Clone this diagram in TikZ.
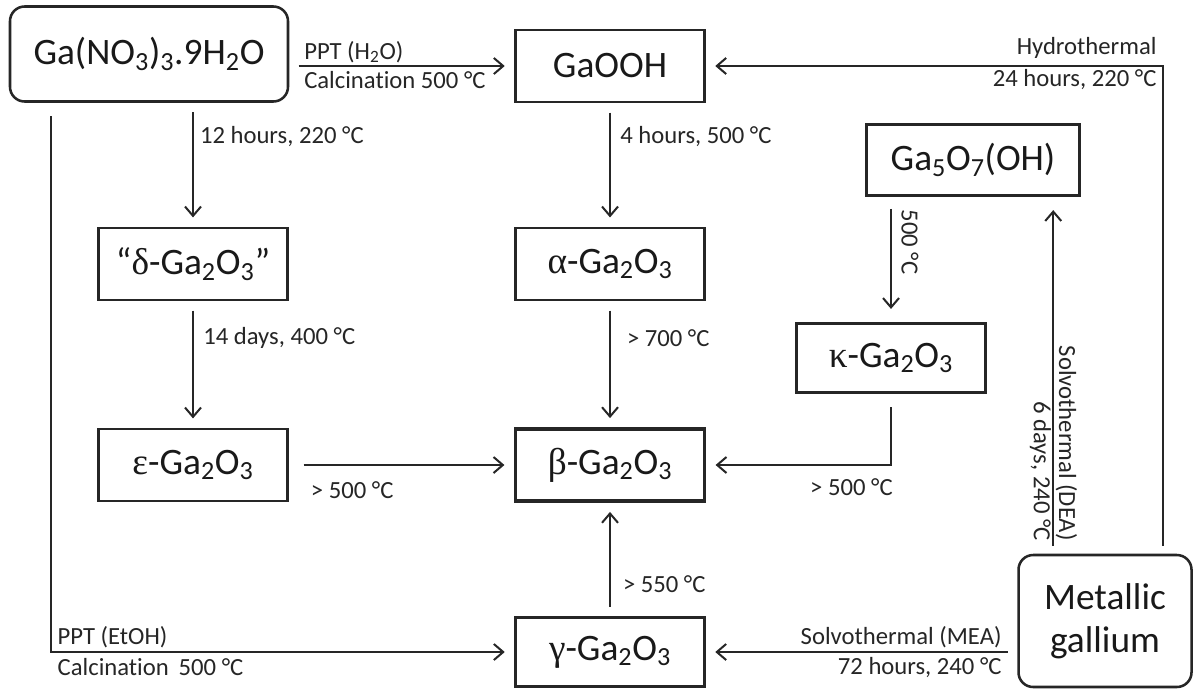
\documentclass[tikz,border=0pt]{standalone}
\usepackage{fontspec}
\setmainfont{Carlito}[Ligatures=NoCommon]
\newfontfamily\grkfont{Liberation Serif}
\usepackage{tikz}
\usetikzlibrary{arrows.meta,positioning}
\newcommand{\gr}[1]{{\grkfont #1}}
\newcommand{\sbs}[1]{\textsubscript{#1}}

\tikzset{
  phase/.style={draw=black!85, line width=1.9pt, inner sep=0pt, text=black!90,
    font=\fontsize{28}{32.25}\selectfont, minimum width=142pt, minimum height=54pt},
  startbox/.style={phase, rounded corners=11pt},
  flow/.style={draw=black!85, line width=1.5pt, -{Straight Barb[length=7pt,width=12pt]},
    shorten >=7pt, shorten <=7pt},
  cond/.style={font=\fontsize{18.5}{20}\selectfont, text=black!85, inner sep=1pt},
}

\begin{document}
\begin{tikzpicture}[x=0.75pt,y=-0.75pt]
  \fill[white] (0,0) rectangle (1194,689);
  \node[startbox, minimum width=208.5pt, minimum height=71.25pt] (nitrate) at (149,54) {Ga(NO\sbs{3})\sbs{3}.9H\sbs{2}O};
  \node[phase] (gaooh) at (610,66) {GaOOH};
  \node[phase, minimum width=159.75pt, minimum height=53.25pt] (gafive) at (973,160) {Ga\sbs{5}O\sbs{7}(OH)};
  \node[phase] (delta) at (193,264) {“\gr{δ}-Ga\sbs{2}O\sbs{3}”};
  \node[phase] (alpha) at (610,264) {\gr{α}-Ga\sbs{2}O\sbs{3}};
  \node[phase, minimum height=51.75pt] (kappa) at (891,358) {\gr{κ}-Ga\sbs{2}O\sbs{3}};
  \node[phase] (eps) at (193,465) {\gr{ε}-Ga\sbs{2}O\sbs{3}};
  \node[phase, line width=2.4pt] (beta) at (610,465) {\gr{β}-Ga\sbs{2}O\sbs{3}};
  \node[phase, minimum height=52pt] (gamma) at (610,652) {\gr{γ}-Ga\sbs{2}O\sbs{3}};
  \node[startbox, minimum width=129.75pt, minimum height=99pt, align=center] (metal) at (1105,621) {Metallic\\gallium};

  \coordinate (etoh) at ([xshift=31.5pt]nitrate.south west);
  \coordinate (dea) at ([xshift=27pt]metal.north west);
  \coordinate (hydro) at ([xshift=-22.5pt]metal.north east);

  \draw[flow] (nitrate.east |- gaooh.west) -- (gaooh.west)
    node[cond, pos=0, anchor=west, xshift=9.5pt, yshift=10.5pt] {PPT (H\sbs{2}O)}
    node[cond, pos=0, anchor=west, xshift=9.5pt, yshift=-10.5pt] {Calcination 500 °C};
  \draw[flow] (delta.north |- nitrate.south) -- (delta.north)
    node[cond, pos=0.27, anchor=west, xshift=3.5pt] {12 hours, 220 °C};
  \draw[flow] (gaooh) -- (alpha)
    node[cond, pos=0.27, anchor=west, xshift=6pt] {4 hours, 500 °C};
  \draw[flow] (delta) -- (eps)
    node[cond, pos=0.29, anchor=west, xshift=6pt] {14 days, 400 °C};
  \draw[flow] (alpha) -- (beta)
    node[cond, pos=0.29, anchor=west, xshift=11pt] {> 700 °C};
  \draw[flow, shorten <=11pt] (eps) -- (beta)
    node[cond, pos=0, anchor=west, xshift=14.75pt, yshift=-18.75pt] {> 500 °C};
  \draw[flow] (gamma) -- (beta)
    node[cond, pos=0.28, anchor=west, xshift=8pt] {> 550 °C};
  \draw[flow, shorten <=10pt] (kappa.south) |- (beta.east)
    node[cond, pos=0.5, anchor=east, xshift=3pt, yshift=-16.5pt] {> 500 °C};
  \draw[flow, shorten <=9pt, shorten >=10pt] (gafive.south -| kappa.north) -- (kappa.north)
    node[cond, pos=0.36, anchor=south, rotate=-90, inner sep=7pt] {500 °C};
  \draw[flow, shorten <=6pt, shorten >=10pt] (dea) -- (dea |- gafive.south)
    node[cond, pos=0.03, anchor=south east, rotate=-90] {Solvothermal (DEA)}
    node[cond, pos=0.03, anchor=north east, rotate=-90] {6 days, 240 °C};
  \draw[flow, shorten <=6pt] (hydro) |- (gaooh.east)
    node[cond, pos=0.5, anchor=east, xshift=-3pt, yshift=13.5pt] {Hydrothermal}
    node[cond, pos=0.5, anchor=east, xshift=-3pt, yshift=-10.5pt] {24 hours, 220 °C};
  \draw[flow] (metal.west |- gamma.east) -- (gamma.east)
    node[cond, pos=0, anchor=east, xshift=-10pt, yshift=11.25pt] {Solvothermal (MEA)}
    node[cond, pos=0, anchor=east, xshift=-10pt, yshift=-12pt] {72 hours, 240 °C};
  \draw[flow, shorten <=10pt] (etoh) |- (gamma.west)
    node[cond, pos=0.5, anchor=west, xshift=3.5pt, yshift=11.25pt] {PPT (EtOH)}
    node[cond, pos=0.5, anchor=west, xshift=3.5pt, yshift=-11.25pt] {Calcination\hspace{0.4em}500 °C};
\end{tikzpicture}
\end{document}
